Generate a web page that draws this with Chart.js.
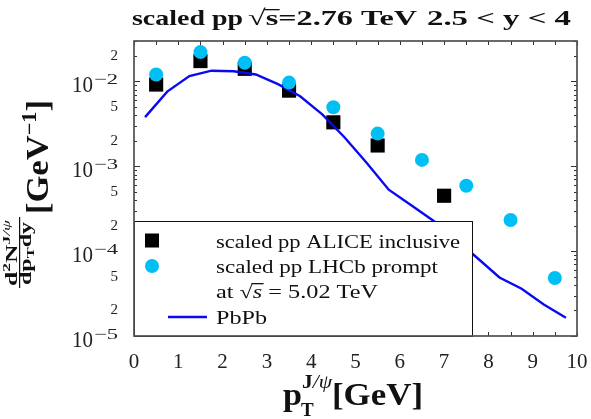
<!DOCTYPE html>
<html>
<head>
<meta charset="utf-8">
<script src="https://cdn.jsdelivr.net/npm/chart.js@4.4.0/dist/chart.umd.min.js"></script>
<style>
  html, body { margin: 0; padding: 0; background: #fff; }
</style>
</head>
<body>
<canvas id="myChart" width="591" height="419"></canvas>
<script>
// scaled pp ALICE inclusive
const aliceBins = [0.5, 1.5, 2.5, 3.5, 4.5, 5.5, 7.0];
const aliceIncl = [0.0092, 0.0174, 0.0141, 0.0078, 0.0033, 0.00176, 0.00045];

// scaled pp LHCb prompt (5.02 TeV)
const lhcbBins = [0.5, 1.5, 2.5, 3.5, 4.5, 5.5, 6.5, 7.5, 8.5, 9.5];
const lhcbPrompt = [0.0121, 0.0222, 0.0166, 0.0097, 0.00497, 0.00243, 0.00119, 0.00059, 0.000233, 0.0000483];

// PbPb curve
const pbpbPt = [0.25, 0.75, 1.25, 1.75, 2.25, 2.75, 3.25, 3.75, 4.25, 4.75,
                5.25, 5.75, 6.25, 6.75, 7.25, 7.75, 8.25, 8.75, 9.25, 9.75];
const pbpbYield = [0.0038, 0.0076, 0.0116, 0.0134, 0.0132, 0.0121, 0.0093, 0.0067, 0.0041, 0.0022,
                   0.0011, 0.00053, 0.00035, 0.00023, 0.00014, 0.000083, 0.000049, 0.000036, 0.0000235, 0.0000164];

const xTickLabels = [0, 1, 2, 3, 4, 5, 6, 7, 8, 9, 10];
const yDecades = [-5, -4, -3, -2];
const yLabelled = [2, 5];

const serif = "'Liberation Serif', serif";
const yTickVals = [];
yDecades.forEach(n => {
  for (let k = 1; k <= 9; k++) {
    const v = Number(k + 'e' + n);
    if (v <= 0.0300001) yTickVals.push(v);
  }
});

function mantissa(v) {
  const e = Math.floor(Math.log10(v) + 1e-9);
  return Math.round(v / Math.pow(10, e));
}

// draws text pieces one after another (optionally stretched to a width)
function runs(ctx, parts, x, y, fitW, align) {
  let total = 0;
  parts.forEach(p => { ctx.font = p.font; p.w = ctx.measureText(p.text).width; total += p.w; });
  const sx = fitW ? fitW / total : 1;
  const w = total * sx;
  ctx.save();
  ctx.textAlign = 'left';
  ctx.translate(align === 'center' ? x - w / 2 : x, y);
  ctx.scale(sx, 1);
  let cx = 0;
  parts.forEach(p => {
    ctx.font = p.font;
    ctx.fillText(p.text, cx, p.dy || 0);
    if (p.bar !== undefined) ctx.fillRect(cx - 1, p.bar, p.w + 2, 1.3);
    cx += p.w;
  });
  ctx.restore();
  return w;
}

const decor = {
  id: 'decor',
  afterDraw(chart) {
    const ctx = chart.ctx;
    const a = chart.chartArea;
    const xs = chart.scales.x, ys = chart.scales.y;
    ctx.save();
    ctx.textBaseline = 'alphabetic';

    // inner ticks
    ctx.strokeStyle = '#333';
    ctx.lineWidth = 1;
    ctx.beginPath();
    xs.ticks.forEach(t => {
      const px = Math.round(xs.getPixelForValue(t.value)) + 0.5;
      ctx.moveTo(px, a.bottom); ctx.lineTo(px, a.bottom - 4);
      ctx.moveTo(px, a.top); ctx.lineTo(px, a.top + 4);
    });
    ys.ticks.forEach(t => {
      const py = Math.round(ys.getPixelForValue(t.value)) + 0.5;
      const len = mantissa(t.value) === 1 ? 6 : 3;
      ctx.moveTo(a.left, py); ctx.lineTo(a.left + len, py);
      ctx.moveTo(a.right, py); ctx.lineTo(a.right - len, py);
    });
    ctx.stroke();

    // legend box
    const lx = a.left, ly = 221, lw = 472 - a.left, lh = a.bottom - ly;
    ctx.fillStyle = '#fff';
    ctx.fillRect(lx, ly, lw, lh);
    ctx.strokeStyle = '#111';
    ctx.strokeRect(lx + 0.5, ly + 0.5, lw, lh);
    ctx.fillStyle = '#000';
    ctx.fillRect(145, 233.5, 14, 14);
    ctx.fillStyle = '#00bff5';
    ctx.beginPath(); ctx.arc(152, 266, 7, 0, Math.PI * 2); ctx.fill();
    ctx.strokeStyle = '#0a0af0';
    ctx.lineWidth = 2.4;
    ctx.beginPath(); ctx.moveTo(168, 317); ctx.lineTo(207, 317); ctx.stroke();

    ctx.fillStyle = '#111';
    const lf = '19px ' + serif;
    runs(ctx, [{ text: 'scaled pp ALICE inclusive', font: lf }], 216, 248, 244);
    runs(ctx, [{ text: 'scaled pp LHCb prompt', font: lf }], 216, 273, 222);
    runs(ctx, [
      { text: 'at ', font: lf },
      { text: '√', font: lf },
      { text: 's', font: 'italic ' + lf, bar: -15 },
      { text: ' = 5.02 TeV', font: lf }
    ], 216, 298, 162);
    runs(ctx, [{ text: 'PbPb', font: lf }], 216, 324, 51);

    // frame
    ctx.strokeStyle = '#505050';
    ctx.lineWidth = 1.7;
    ctx.strokeRect(a.left, a.top, a.right - a.left, a.bottom - a.top);

    // decade labels
    ctx.fillStyle = '#222';
    yDecades.forEach(n => {
      const py = ys.getPixelForValue(Math.pow(10, n));
      runs(ctx, [{ text: '10', font: '23px ' + serif }], 72, py + 11, 21);
      runs(ctx, [{ text: '−' + (-n), font: '15px ' + serif }], 94, py + 3, 24);
    });

    // title
    ctx.fillStyle = '#111';
    const tf = 'bold 22px ' + serif;
    runs(ctx, [{ text: 'scaled pp', font: tf }], 132, 25, 111);
    runs(ctx, [
      { text: '√', font: '22px ' + serif },
      { text: 's', font: tf, bar: -16 },
      { text: '=2.76 TeV', font: tf }
    ], 248, 25, 169);
    runs(ctx, [{ text: '2.5 < y < 4', font: tf }], 427, 25, 144);

    // x title
    const bf = 'bold 32px ' + serif;
    runs(ctx, [{ text: 'p', font: bf }], 283, 405, 19);
    runs(ctx, [{ text: 'T', font: 'bold 19px ' + serif }], 301, 416);
    runs(ctx, [{ text: 'J', font: 'bold 19px ' + serif }, { text: '/ψ', font: 'italic 19px ' + serif }], 302, 388, 30);
    runs(ctx, [{ text: '[GeV]', font: bf }], 332, 405, 91);

    // y title (rotated)
    ctx.translate(0, 419);
    ctx.rotate(-Math.PI / 2);
    const ff = 'bold 16px ' + serif;
    const sf = 'bold 11px ' + serif;
    runs(ctx, [
      { text: 'd', font: ff },
      { text: '2', font: sf, dy: -7 },
      { text: 'N', font: ff },
      { text: 'J', font: sf, dy: -7 },
      { text: '/ψ', font: 'italic 11px ' + serif, dy: -7 }
    ], 133, 17, 66);
    ctx.fillRect(131, 19, 71, 1.2);
    runs(ctx, [
      { text: 'dp', font: ff },
      { text: 'T', font: sf, dy: 3 },
      { text: 'dy', font: ff }
    ], 134, 31, 63);
    runs(ctx, [
      { text: '[GeV', font: 'bold 31px ' + serif },
      { text: '−1', font: 'bold 20px ' + serif, dy: -12 },
      { text: ']', font: 'bold 31px ' + serif }
    ], 205, 48, 114);

    ctx.restore();
  }
};

const ctx = document.getElementById('myChart').getContext('2d');
new Chart(ctx, {
  type: 'scatter',
  data: {
    datasets: [
      {
        label: 'scaled pp ALICE inclusive',
        data: aliceBins.map((x, i) => ({ x: x, y: aliceIncl[i] })),
        pointStyle: 'rect',
        pointRadius: 10,
        backgroundColor: '#000',
        borderWidth: 0,
        order: 3
      },
      {
        label: 'PbPb',
        data: pbpbPt.map((x, i) => ({ x: x, y: pbpbYield[i] })),
        showLine: true,
        pointRadius: 0,
        borderColor: '#0a0af0',
        borderWidth: 2.4,
        fill: false,
        order: 2
      },
      {
        label: 'scaled pp LHCb prompt',
        data: lhcbBins.map((x, i) => ({ x: x, y: lhcbPrompt[i] })),
        pointStyle: 'circle',
        pointRadius: 7,
        backgroundColor: '#00bff5',
        borderWidth: 0,
        order: 1
      }
    ]
  },
  options: {
    responsive: false,
    animation: false,
    layout: { padding: { top: 41, right: 14, left: 0, bottom: 0 } },
    plugins: {
      legend: { display: false },
      title: { display: false },
      tooltip: { enabled: false }
    },
    scales: {
      x: {
        type: 'linear',
        min: 0,
        max: 10,
        grid: { display: false, drawTicks: false },
        border: { display: false },
        ticks: {
          stepSize: 0.5,
          autoSkip: false,
          maxRotation: 0,
          padding: 14,
          color: '#222',
          font: { family: serif, size: 21 },
          callback: v => xTickLabels.includes(v) ? String(v) : ''
        },
        afterFit: s => { s.height = 83; s.paddingLeft = 0; s.paddingRight = 0; }
      },
      y: {
        type: 'logarithmic',
        min: 1e-5,
        max: 0.03,
        grid: { display: false, drawTicks: false },
        border: { display: false },
        afterBuildTicks: s => { s.ticks = yTickVals.map(v => ({ value: v })); },
        ticks: {
          autoSkip: false,
          padding: 16,
          color: '#222',
          font: { family: serif, size: 15 },
          callback: v => yLabelled.includes(mantissa(v)) ? String(mantissa(v)) : ''
        },
        afterFit: s => { s.width = 134; s.paddingTop = 0; s.paddingBottom = 0; }
      }
    }
  },
  plugins: [decor]
});
</script>
</body>
</html>
